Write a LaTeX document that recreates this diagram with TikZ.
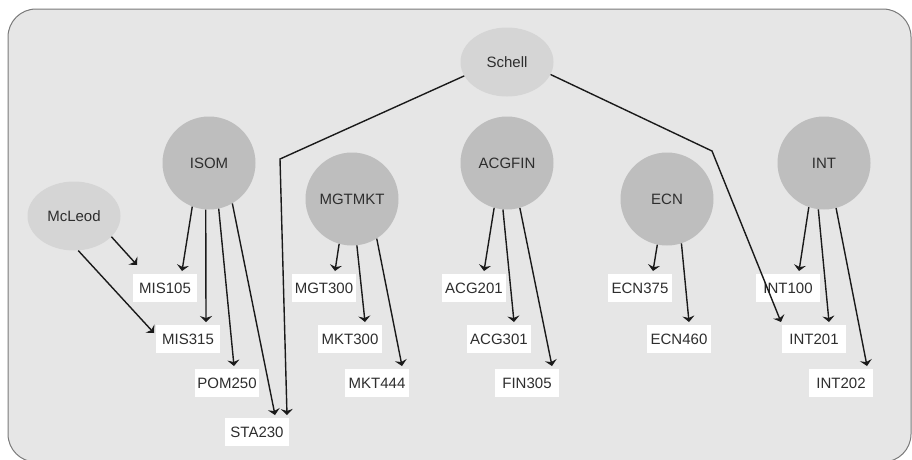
\documentclass[tikz,border=0pt]{standalone}
\usepackage{fontspec}
\setmainfont{Liberation Sans}
\usetikzlibrary{shapes.geometric,arrows.meta}
\definecolor{panelgray}{HTML}{E6E6E6}
\definecolor{framegray}{HTML}{7A7A7A}
\definecolor{hubgray}{HTML}{BEBEBE}
\definecolor{persongray}{HTML}{D5D5D5}
\definecolor{txtgray}{HTML}{2E2E2E}
\definecolor{linkblack}{HTML}{1A1A1A}
\begin{document}
\begin{tikzpicture}[x=1pt,y=-1pt,
		font=\fontsize{15}{18}\selectfont,
		hub/.style={circle, fill=hubgray, minimum size=93pt, inner sep=0pt, text=txtgray},
		person/.style={ellipse, fill=persongray, minimum width=93pt, minimum height=69pt, inner sep=0pt, text=txtgray},
		course/.style={rectangle, fill=white, minimum width=64pt, minimum height=28pt, inner sep=0pt, outer sep=3pt, text=txtgray},
		link/.style={draw=linkblack, line width=1.4pt, -{Stealth[width=12pt,length=6pt,inset=2pt]}}]
			\useasboundingbox (0,0) rectangle (912,459);
			\draw[fill=panelgray, draw=framegray, line width=1pt, rounded corners=28pt] (8,9) rectangle (911,462);
			% people
			\node[person] (Schell) at (507,62) {Schell};
			\node[person] (McLeod) at (74,216) {McLeod};
			% departments
			\node[hub] (ISOM) at (209,163) {ISOM};
			\node[hub] (MGTMKT) at (352,199) {MGTMKT};
			\node[hub] (ACGFIN) at (507,163) {ACGFIN};
			\node[hub] (ECN) at (667,199) {ECN};
			\node[hub] (INT) at (824,163) {INT};
			% courses
			\node[course] (MIS105) at (165,288) {MIS105};
			\node[course] (MIS315) at (188,339) {MIS315};
			\node[course] (POM250) at (227,383) {POM250};
			\node[course] (STA230) at (257,432) {STA230};
			\node[course] (MGT300) at (324,288) {MGT300};
			\node[course] (MKT300) at (350,339) {MKT300};
			\node[course] (MKT444) at (377,383) {MKT444};
			\node[course] (ACG201) at (474,288) {ACG201};
			\node[course] (ACG301) at (499,339) {ACG301};
			\node[course] (FIN305) at (527,383) {FIN305};
			\node[course] (ECN375) at (640,288) {ECN375};
			\node[course] (ECN460) at (679,339) {ECN460};
			\node[course] (INT100) at (788,288) {INT100};
			\node[course] (INT201) at (814,339) {INT201};
			\node[course] (INT202) at (841,383) {INT202};
			% links
			\draw[link] (McLeod.-29) -- ([xshift=7pt,yshift=6pt]MIS105.north west);
			\draw[link] (McLeod.-83) -- ([xshift=1pt,yshift=6pt]MIS315.west);
			\draw[link] (ISOM.-111) -- ([xshift=17pt]MIS105.north);
			\draw[link] (ISOM.-94) -- ([xshift=18pt]MIS315.north);
			\draw[link] (ISOM.-78) -- ([xshift=7pt]POM250.north);
			\draw[link] (ISOM.-60) -- ([xshift=18pt]STA230.north);
			\draw[link] (MGTMKT.-106) -- ([xshift=11pt]MGT300.north);
			\draw[link] (MGTMKT.-84) -- ([xshift=15pt]MKT300.north);
			\draw[link] (MGTMKT.-58) -- ([xshift=25pt]MKT444.north);
			\draw[link] (ACGFIN.-106) -- ([xshift=10pt]ACG201.north);
			\draw[link] (ACGFIN.-95) -- ([xshift=15pt]ACG301.north);
			\draw[link] (ACGFIN.-74) -- ([xshift=25pt]FIN305.north);
			\draw[link] (ECN.-102) -- ([xshift=13pt]ECN375.north);
			\draw[link] (ECN.-72) -- ([xshift=10pt]ECN460.north);
			\draw[link] (INT.-109) -- ([xshift=11pt]INT100.north);
			\draw[link] (INT.-97) -- ([xshift=15pt]INT201.north);
			\draw[link] (INT.-75) -- ([xshift=26pt]INT202.north);
			\coordinate (bendL) at (280,159);
			\coordinate (bendR) at (712,151);
			\draw[link] (Schell.-162) -- (bendL) -- ([xshift=30pt]STA230.north);
			\draw[link] (Schell.-16) -- (bendR) -- ([xshift=2pt]INT201.north west);
		\end{tikzpicture}
\end{document}
